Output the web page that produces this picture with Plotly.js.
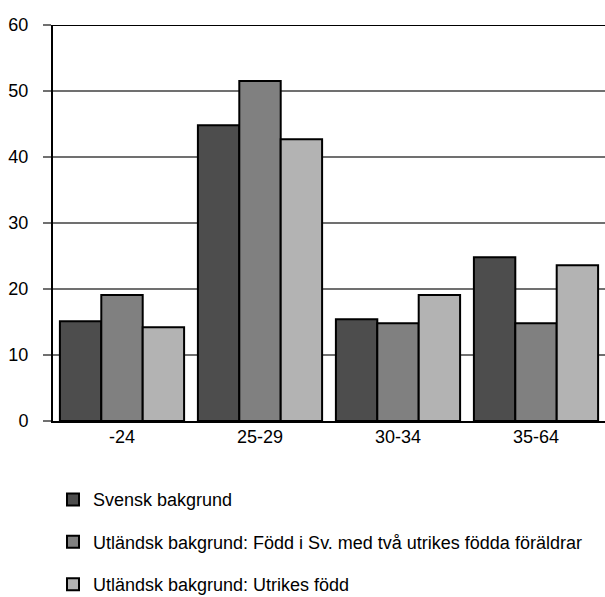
<!DOCTYPE html>
<html>
<head>
<meta charset="utf-8">
<script src="https://cdn.plot.ly/plotly-3.0.1.min.js"></script>
<style>body{margin:0;padding:0;background:#fff}#chart{width:605px;height:597px}</style>
</head>
<body>
<div id="chart"></div>
<script>
var categories = ["-24", "25-29", "30-34", "35-64"];
var seriesNames = [
  "Svensk bakgrund",
  "Utländsk bakgrund: Född i Sv. med två utrikes födda föräldrar",
  "Utländsk bakgrund: Utrikes född"
];
var svensk = [15.1, 44.8, 15.4, 24.8];
var foddISv = [19.1, 51.5, 14.8, 14.8];
var utrikes = [14.2, 42.7, 19.1, 23.6];
var yTicks = [0, 10, 20, 30, 40, 50, 60];
var colors = ["#4d4d4d", "#808080", "#b3b3b3"];

var values = [svensk, foddISv, utrikes];
var traces = values.map(function (v, i) {
  return {
    type: "bar",
    name: seriesNames[i],
    x: categories,
    y: v,
    legendgroup: "g" + i,
    marker: {color: colors[i], line: {color: "#000", width: 2}},
    hoverinfo: "x+y"
  };
});

var layout = {
  width: 605, height: 597,
  margin: {l: 53, r: 0, t: 25, b: 176},
  paper_bgcolor: "#fff", plot_bgcolor: "#fff",
  font: {family: "Liberation Sans, Arial, sans-serif", size: 18, color: "#000"},
  barmode: "group",
  bargap: 0.1,
  bargroupgap: 0,
  showlegend: true,
  legend: {
    orientation: "v", xref: "paper", x: 0, xanchor: "left",
    yref: "container", y: 0.194, yanchor: "top",
    traceorder: "grouped", tracegroupgap: 16,
    font: {size: 18}, bgcolor: "rgba(0,0,0,0)"
  },
  xaxis: {
    type: "category", showgrid: false, zeroline: false,
    showline: true, linecolor: "#000", linewidth: 2,
    ticks: "", tickfont: {size: 18}, ticklabelstandoff: -2
  },
  yaxis: {
    range: [0, 60], tickvals: yTicks, ticktext: yTicks.map(String),
    showgrid: true, gridcolor: "#707070", gridwidth: 1.5,
    zeroline: false, showline: true, linecolor: "#000", linewidth: 2,
    ticks: "outside", ticklen: 8, tickcolor: "#707070", tickwidth: 1.5,
    ticklabelstandoff: 11, tickfont: {size: 18}
  },
  shapes: [{
    type: "line", xref: "paper", yref: "y", x0: 0, x1: 1, y0: 60, y1: 60,
    line: {color: "#000", width: 2}
  }]
};

Plotly.newPlot("chart", traces, layout, {displayModeBar: false, staticPlot: true});
</script>
</body>
</html>
